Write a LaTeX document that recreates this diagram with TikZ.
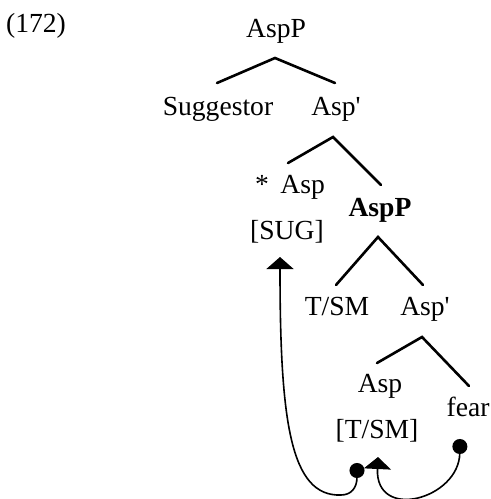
\documentclass[tikz,border=0pt]{standalone}
\usepackage{fontspec}
\setmainfont{Liberation Serif}
\usetikzlibrary{arrows.meta,calc}

\tikzset{
  lbl/.style={anchor=base, inner sep=0pt, font=\fontsize{13.8}{16}\selectfont},
  branch/.style={line width=1.3pt, line cap=round},
  move/.style={line width=0.8pt,
    arrows={Circle[length=7.5pt]-Triangle[width=13.5pt,length=6pt]}},
}
\newcommand{\barprime}{\textquotesingle}

\begin{document}
\begin{tikzpicture}[x=0.5pt, y=-0.5pt]
  \useasboundingbox (0,0) rectangle (491,499);

  % example number
  \node[lbl] (num) at (36,32) {(172)};

  % tree labels
  \node[lbl] (top)   at (276,37)  {AspP};
  \node[lbl] (sugg)  at (218,115) {Suggestor};
  \node[lbl] (abar1) at (336,115) {Asp\barprime};
  \node[lbl] (asp1)  at (290,193) {*\, Asp};
  \node[lbl] (sug)   at (287,239) {[SUG]};
  \node[lbl] (aspp)  at (380,216) {\bfseries AspP};
  \node[lbl] (tsm)   at (337,315) {T/SM};
  \node[lbl] (abar2) at (425,315) {Asp\barprime};
  \node[lbl] (asp2)  at (380,392) {Asp};
  \node[lbl] (tsmf)  at (377,438) {[T/SM]};
  \node[lbl] (fear)  at (468,416) {fear};

  % branches
  \draw[branch] ($(sugg.base)+(-1,-32)$) -- ($(top.base)+(-1,21)$) -- ($(abar1.base)+(-1,-32)$);
  \draw[branch] ($(asp1.base)+(-2,-30)$) -- ($(abar1.base)+(-3,22)$) -- ($(aspp.base)+(1,-31)$);
  \draw[branch] ($(tsm.base)+(-1,-30)$) -- ($(aspp.base)+(-2,21)$) -- ($(abar2.base)+(-2,-30)$);
  \draw[branch] ($(asp2.base)+(-3,-29)$) -- ($(abar2.base)+(-3,22)$) -- ($(fear.base)+(1,-30)$);

  % head movement: fear to Asp [T/SM]
  \draw[move] ($(fear.base)+(-8,23)$)
    .. controls ($(fear.base)+(-9,83)$) and ($(tsmf.base)+(-2,84)$) .. ($(tsmf.base)+(1,19)$);

  % head movement: Asp [T/SM] to Asp [SUG]
  \draw[move] ($(tsmf.base)+(-20,25)$)
    .. controls ($(tsmf.base)+(-20,50)$) and ($(tsmf.base)+(-26,57)$) .. ($(tsmf.base)+(-36,57)$)
    .. controls ($(tsmf.base)+(-87,59)$) and ($(sug.base)+(-7,181)$) .. ($(sug.base)+(-7,18)$);
\end{tikzpicture}
\end{document}
